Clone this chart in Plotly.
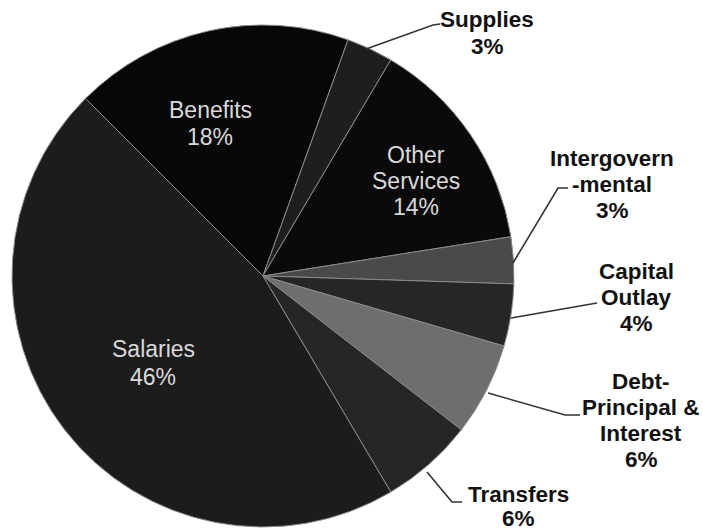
import plotly.graph_objects as go

W, H = 703, 531

labels = ["Benefits", "Supplies", "Other Services", "Intergovernmental",
          "Capital Outlay", "Debt-Principal & Interest", "Transfers", "Salaries"]
values = [18, 3, 14, 3, 4, 6, 6, 46]
label_lines = [["Benefits"], ["Supplies"], ["Other", "Services"], ["Intergovern", "-mental"],
               ["Capital", "Outlay"], ["Debt-", "Principal &", "Interest"], ["Transfers"], ["Salaries"]]
colors = ["#070707", "#1e1e1e", "#0a0a0a", "#4a4a4a", "#262626", "#6e6e6e", "#262626", "#1c1c1c"]

# label layout (pixel positions): center x, first line y, line step, inside?
label_pos = [(210, 110, 27, True), (487, 20, 26, False), (416, 155, 26, True), (612, 158, 26, False),
             (636, 271, 26, False), (641, 381, 26, False), (518, 494, 24, False), (153, 349, 28, True)]
# leader lines (pixels)
leaders = {
    1: [(366, 49), (433, 25), (440, 24)],
    3: [(513, 263), (558, 188), (568, 188)],
    4: [(511, 318), (597, 303)],
    5: [(488, 393), (565, 415), (580, 415)],
    6: [(427, 472), (452, 502), (462, 502)],
}

cx, cy, r = 263, 276, 251

fig = go.Figure(go.Pie(
    labels=labels, values=values, sort=False, direction="clockwise", rotation=-45,
    marker=dict(colors=colors, line=dict(color="#8a8a8a", width=1)),
    textinfo="none", hoverinfo="label+percent", showlegend=False,
    domain=dict(x=[(cx - r) / W, (cx + r) / W], y=[(H - cy - r) / H, (H - cy + r) / H]),
))

annotations = []
for i, (lines, v) in enumerate(zip(label_lines, values)):
    x, y0, step, inside = label_pos[i]
    all_lines = lines + [f"{v}%"]
    for k, t in enumerate(all_lines):
        annotations.append(dict(
            text=t if inside else f"<b>{t}</b>",
            x=x / W, y=1 - (y0 + k * step) / H, xref="paper", yref="paper",
            xanchor="center", yanchor="middle", showarrow=False,
            font=dict(family="Liberation Sans, Arial, sans-serif",
                      size=23 if inside else 22.5,
                      color="#d9d9d9" if inside else "#111111"),
        ))

shapes = []
for i, pts in leaders.items():
    path = "M " + " L ".join(f"{px / W},{1 - py / H}" for px, py in pts)
    shapes.append(dict(type="path", path=path, xref="paper", yref="paper",
                       line=dict(color="#333333", width=1.6)))

fig.update_layout(
    width=W, height=H, margin=dict(l=0, r=0, t=0, b=0),
    paper_bgcolor="white", plot_bgcolor="white",
    annotations=annotations, shapes=shapes,
)
fig.write_html("out.html", config={"displayModeBar": False},
               post_script="document.body.style.margin='0';document.body.style.overflow='hidden';")
